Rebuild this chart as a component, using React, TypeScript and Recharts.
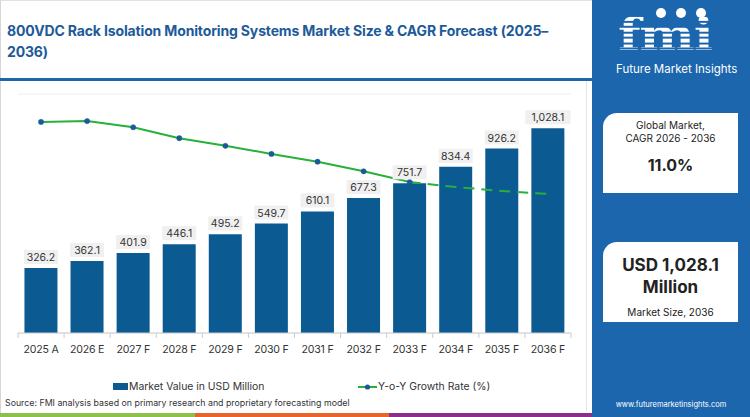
import { Bar, CartesianGrid, ComposedChart, LabelList, Line, XAxis, YAxis } from "recharts";

const years = ["2025 A", "2026 E", "2027 F", "2028 F", "2029 F", "2030 F", "2031 F", "2032 F", "2033 F", "2034 F", "2035 F", "2036 F"];
const marketValue = [326.2, 362.1, 401.9, 446.1, 495.2, 549.7, 610.1, 677.3, 751.7, 834.4, 926.2, 1028.1];
// y-o-y growth (%)
const growthRate = [10.6, 10.64, 10.33, 9.78, 9.4, 8.99, 8.6, 8.12, 7.58, 7.33, 7.13, 6.98];
const dashFrom = 8; // line turns dashed from 2033 F
const valueTicks = [0, 200, 400, 600, 800, 1000, 1200];

const rows = years.map((year, i) => ({
  year,
  value: marketValue[i],
  solid: i <= dashFrom ? growthRate[i] : null,
  dashed: i >= dashFrom ? growthRate[i] : null,
}));

const CHART_W = 592;
const MARGIN = { top: 12, right: 21, bottom: 0, left: 18 };
const HALF_BAND = (CHART_W - MARGIN.left - MARGIN.right) / years.length / 2;

const BLUE = "#0b5a92";
const PANEL = "#1b66ad";
const GREEN = "#27b03a";
const FONT = "Inter, 'Noto Sans', sans-serif";

const fmt = (v: number) => v.toLocaleString("en-US", { minimumFractionDigits: 1, maximumFractionDigits: 1 });

function ValueLabel(props: any) {
  const { x, y, width, value } = props;
  const text = fmt(Number(value));
  const w = text.length * 5.6 + 6;
  const cx = x + width / 2;
  return (
    <g>
      <rect x={cx - w / 2} y={y - 18} width={w} height={14} fill="#f0f0f0" />
      <text x={cx} y={y - 7} textAnchor="middle" fontSize={10.5} fill="#333" fontFamily={FONT}>
        {text}
      </text>
    </g>
  );
}

function YearTick(props: any) {
  const { x, y, payload, index } = props;
  return (
    <g>
      <line x1={x - HALF_BAND} x2={x - HALF_BAND} y1={y - 8} y2={y - 3} stroke="#ccc" />
      {index === years.length - 1 && <line x1={x + HALF_BAND} x2={x + HALF_BAND} y1={y - 8} y2={y - 3} stroke="#ccc" />}
      <text x={x} y={y + 12} textAnchor="middle" fontSize={10.6} letterSpacing={-0.2} fill="#333" fontFamily={FONT}>
        {payload.value}
      </text>
    </g>
  );
}

export default function App() {
  return (
    <div style={{ position: "relative", width: 750, height: 417, overflow: "hidden", background: "#fff", fontFamily: FONT }}>
      <style>{`body{margin:0}`}</style>
      <div style={{ position: "absolute", left: 0, top: 0, width: 592, height: 417, borderLeft: "1px solid #d6d6d6", borderTop: "1px solid #e2e2e2", boxSizing: "border-box" }} />
      <div
        style={{
          position: "absolute",
          left: 7,
          top: 20,
          width: 580,
          fontSize: 14,
          fontWeight: 700,
          letterSpacing: -0.15,
          lineHeight: "21px",
          color: "#1d5a99",
          whiteSpace: "nowrap",
        }}
      >
        800VDC Rack Isolation Monitoring Systems Market Size &amp; CAGR Forecast (2025–
        <br />
        2036)
      </div>
      <div style={{ position: "absolute", left: 0, top: 78, width: 592, height: 3, background: PANEL }} />
      <div style={{ position: "absolute", left: 586, top: 81, width: 1, height: 330, background: "#e4e4e4" }} />

      <div style={{ position: "absolute", left: 0, top: 82 }}>
        <ComposedChart width={CHART_W} height={282} data={rows} margin={MARGIN} barCategoryGap="14%">
          <CartesianGrid vertical={false} stroke="#eeeeee" />
          <XAxis dataKey="year" height={31} axisLine={{ stroke: "#ccc" }} tickLine={false} tick={<YearTick />} interval={0} />
          <YAxis yAxisId="v" domain={[0, 1200]} ticks={valueTicks} width={0} tick={false} axisLine={false} tickLine={false} />
          <YAxis yAxisId="g" orientation="right" domain={[0, 12]} width={0} tick={false} axisLine={false} tickLine={false} />
          <Bar yAxisId="v" dataKey="value" fill={BLUE} isAnimationActive={false}>
            <LabelList dataKey="value" content={<ValueLabel />} />
          </Bar>
          <Line
            yAxisId="g"
            dataKey="solid"
            stroke={GREEN}
            strokeWidth={2}
            dot={{ r: 2.6, fill: "#1a5a96", stroke: "#1a5a96", strokeWidth: 0.5 }}
            connectNulls={false}
            isAnimationActive={false}
          />
          <Line
            yAxisId="g"
            dataKey="dashed"
            stroke={GREEN}
            strokeWidth={2}
            strokeDasharray="11 7"
            dot={false}
            connectNulls={false}
            isAnimationActive={false}
          />
        </ComposedChart>
      </div>

      <div style={{ position: "absolute", left: 113, top: 379, height: 15, lineHeight: "15px", display: "flex", alignItems: "center", fontSize: 10.4, color: "#333" }}>
        <span style={{ display: "inline-block", width: 15, height: 7, background: BLUE, marginRight: 1 }} />
        Market Value in USD Million
      </div>
      <div style={{ position: "absolute", left: 358, top: 379, height: 15, lineHeight: "15px", display: "flex", alignItems: "center", fontSize: 10.4, color: "#333" }}>
        <svg width={19} height={8} style={{ marginRight: 1 }}>
          <line x1={0} x2={19} y1={4} y2={4} stroke={GREEN} strokeWidth={2} />
          <circle cx={9.5} cy={4} r={2.6} fill="#1a5a96" />
        </svg>
        Y-o-Y Growth Rate (%)
      </div>
      <div style={{ position: "absolute", left: 5, top: 397, lineHeight: "11px", fontSize: 8.8, color: "#333" }}>
        Source: FMI analysis based on primary research and proprietary forecasting model
      </div>
      <div style={{ position: "absolute", left: 0, top: 413, width: 195, height: 4, background: "#8cc04b" }} />
      <div style={{ position: "absolute", left: 195, top: 413, width: 194, height: 4, background: "#e8642c" }} />
      <div style={{ position: "absolute", left: 389, top: 413, width: 203, height: 4, background: "#8b2f8e" }} />

      <div style={{ position: "absolute", left: 592, top: 0, width: 158, height: 417, background: PANEL, color: "#fff" }}>
        <div
          style={{
            position: "absolute",
            left: 26,
            top: 12,
            height: 42,
            fontFamily: "'DejaVu Serif', serif",
            fontWeight: 700,
            fontSize: 42,
            lineHeight: "42px",
            letterSpacing: -1,
            transform: "scale(1.25, 1.08)",
            transformOrigin: "0 0",
            background: "repeating-linear-gradient(to bottom, #fff 0 3px, transparent 3px 5px)",
            WebkitBackgroundClip: "text",
            backgroundClip: "text",
            color: "transparent",
          }}
        >
          fmi
        </div>
        <div style={{ position: "absolute", left: 64, top: 8, width: 10, height: 10, borderRadius: 5, background: "#fff" }} />
        <div style={{ position: "absolute", left: 84, top: 8, width: 10, height: 10, borderRadius: 5, background: "#fff" }} />
        <div style={{ position: "absolute", left: 104, top: 8, width: 10, height: 10, borderRadius: 5, background: "#fff" }} />
        <div style={{ position: "absolute", left: 24, top: 63, fontSize: 11.5, lineHeight: "13px", whiteSpace: "nowrap" }}>Future Market Insights</div>

        <div style={{ position: "absolute", left: 11, top: 113, width: 135, height: 80, background: "#fff", borderTopLeftRadius: 14, color: "#222", textAlign: "center" }}>
          <div style={{ marginTop: 6, fontSize: 10, lineHeight: "13px" }}>
            Global Market,
            <br />
            CAGR 2026 - 2036
          </div>
          <div style={{ marginTop: 10, fontSize: 16, fontWeight: 700 }}>11.0%</div>
        </div>
        <div style={{ position: "absolute", left: 11, top: 242, width: 135, height: 80, background: "#fff", borderTopLeftRadius: 14, color: "#222", textAlign: "center" }}>
          <div style={{ marginTop: 12, fontSize: 17, fontWeight: 700, lineHeight: "22px" }}>
            USD 1,028.1
            <br />
            Million
          </div>
          <div style={{ marginTop: 8, fontSize: 10 }}>Market Size, 2036</div>
        </div>
        <div style={{ position: "absolute", left: 0, width: 158, top: 400, fontSize: 7.5, textAlign: "center" }}>www.futuremarketinsights.com</div>
      </div>
    </div>
  );
}
